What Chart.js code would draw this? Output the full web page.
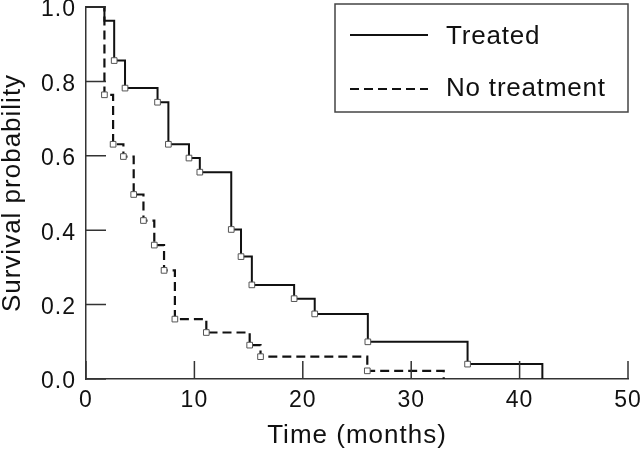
<!DOCTYPE html>
<html>
<head>
<meta charset="utf-8">
<script src="https://cdn.jsdelivr.net/npm/chart.js@4/dist/chart.umd.min.js"></script>
<style>
  html, body { margin: 0; padding: 0; background: #fff; }
  #wrap { width: 640px; height: 449px; }
</style>
</head>
<body>
<div id="wrap"><canvas id="kmChart" width="640" height="449"></canvas></div>
<script>
// Kaplan-Meier step points (time in months, survival probability)
const treatedTime = [0, 1.7, 2.6, 3.6, 6.6, 7.6, 9.5, 10.5, 13.4, 14.3, 15.3, 19.2, 21.1, 26.0, 35.2, 42.1];
const treatedSurv = [1.0, 0.963, 0.856, 0.782, 0.744, 0.631, 0.594, 0.556, 0.402, 0.329, 0.253, 0.216, 0.175, 0.100, 0.040, 0];
const treatedMarks = [0, 0, 1, 1, 1, 1, 1, 1, 1, 1, 1, 1, 1, 1, 1, 0];

const noTreatTime = [0, 1.7, 2.5, 3.45, 4.4, 5.3, 6.3, 7.2, 8.2, 11.1, 15.1, 16.1, 25.95, 33.0];
const noTreatSurv = [1.0, 0.764, 0.631, 0.598, 0.496, 0.426, 0.360, 0.292, 0.161, 0.125, 0.091, 0.060, 0.022, 0];
const noTreatMarks = [0, 1, 1, 1, 1, 1, 1, 1, 1, 1, 1, 1, 1, 0];

const seriesLabels = ['Treated', 'No treatment'];
const xTicks = [0, 10, 20, 30, 40, 50];
const yTicks = [0, 0.2, 0.4, 0.6, 0.8, 1.0];

const axisColor = '#333';
const fontFamily = '"Liberation Sans", Arial, Helvetica, sans-serif';

function toPoints(times, surv) {
    return times.map((t, i) => ({ x: t, y: surv[i] }));
}

// inward tick marks, the original has no outside ticks
const innerTicks = {
    id: 'innerTicks',
    beforeDraw(chart) {
        chart.ctx.letterSpacing = '1px';
    },
    afterDraw(chart) {
        const ctx = chart.ctx;
        const xs = chart.scales.x;
        const ys = chart.scales.y;
        const area = chart.chartArea;
        ctx.save();
        ctx.strokeStyle = axisColor;
        ctx.lineWidth = 1.5;
        ctx.beginPath();
        xTicks.forEach(v => {
            const px = xs.getPixelForValue(v);
            ctx.moveTo(px, area.bottom);
            ctx.lineTo(px, area.bottom - 18);
        });
        yTicks.forEach(v => {
            const py = ys.getPixelForValue(v);
            ctx.moveTo(area.left, py);
            ctx.lineTo(area.left + 20, py);
        });
        ctx.stroke();
        ctx.restore();
    }
};

// boxed legend in the top right corner
const boxLegend = {
    id: 'boxLegend',
    afterDraw(chart) {
        const ctx = chart.ctx;
        ctx.save();
        ctx.strokeStyle = '#444';
        ctx.lineWidth = 1.5;
        ctx.strokeRect(335, 4, 293, 108);

        ctx.strokeStyle = '#111';
        ctx.lineWidth = 2;
        ctx.beginPath();
        ctx.moveTo(350, 35);
        ctx.lineTo(428, 35);
        ctx.stroke();

        ctx.setLineDash([9, 5]);
        ctx.beginPath();
        ctx.moveTo(350, 89);
        ctx.lineTo(428, 89);
        ctx.stroke();
        ctx.setLineDash([]);

        ctx.fillStyle = '#111';
        ctx.font = '26px ' + fontFamily;
        ctx.letterSpacing = '0.8px';
        ctx.textAlign = 'left';
        ctx.textBaseline = 'middle';
        ctx.fillText(seriesLabels[0], 446, 37);
        ctx.fillText(seriesLabels[1], 446, 89);
        ctx.restore();
    }
};

// 'before' in Chart.js keeps the level then drops at the next point
const commonLine = {
    stepped: 'before',
    fill: false,
    clip: false,
    borderColor: '#111',
    pointStyle: 'rect',
    pointBackgroundColor: '#fff',
    pointBorderColor: '#555',
    pointBorderWidth: 1,
    pointHoverRadius: 0
};

new Chart(document.getElementById('kmChart'), {
    type: 'line',
    data: {
        datasets: [
            Object.assign({}, commonLine, {
                label: seriesLabels[0],
                data: toPoints(treatedTime, treatedSurv),
                borderWidth: 2,
                pointRadius: ctx => treatedMarks[ctx.dataIndex] ? 4 : 0
            }),
            Object.assign({}, commonLine, {
                label: seriesLabels[1],
                data: toPoints(noTreatTime, noTreatSurv),
                borderWidth: 2.2,
                borderDash: [9, 5],
                pointRadius: ctx => noTreatMarks[ctx.dataIndex] ? 4 : 0
            })
        ]
    },
    options: {
        responsive: false,
        animation: false,
        devicePixelRatio: 1,
        layout: { padding: { left: 0, right: 12, top: 7, bottom: 0 } },
        plugins: {
            legend: { display: false },
            tooltip: { enabled: false }
        },
        scales: {
            x: {
                type: 'linear',
                min: 0,
                max: 50,
                afterBuildTicks: scale => { scale.ticks = xTicks.map(v => ({ value: v })); },
                afterFit: scale => {
                    scale.height = 70;
                    scale.paddingLeft = 0;
                    scale.paddingRight = 0;
                },
                grid: { display: false, drawTicks: false },
                border: { display: true, color: axisColor, width: 1.5 },
                ticks: {
                    padding: 8,
                    color: '#111',
                    maxRotation: 0,
                    font: { family: fontFamily, size: 23 },
                    callback: v => String(v)
                },
                title: {
                    display: true,
                    text: 'Time (months)',
                    color: '#111',
                    padding: { top: 0, bottom: 0 },
                    font: { family: fontFamily, size: 26, lineHeight: 1 }
                }
            },
            y: {
                type: 'linear',
                min: 0,
                max: 1,
                afterBuildTicks: scale => { scale.ticks = yTicks.map(v => ({ value: v })); },
                afterFit: scale => {
                    scale.width = 86;
                    scale.paddingTop = 0;
                    scale.paddingBottom = 0;
                },
                grid: { display: false, drawTicks: false },
                border: { display: true, color: axisColor, width: 1.5 },
                ticks: {
                    padding: 10,
                    labelOffset: 3,
                    color: '#111',
                    font: { family: fontFamily, size: 23, lineHeight: 0.5 },
                    callback: v => v.toFixed(1)
                },
                title: {
                    display: true,
                    text: 'Survival probability',
                    color: '#111',
                    padding: { top: 0, bottom: 0 },
                    font: { family: fontFamily, size: 26, lineHeight: 1 }
                }
            }
        }
    },
    plugins: [innerTicks, boxLegend]
});
</script>
</body>
</html>
